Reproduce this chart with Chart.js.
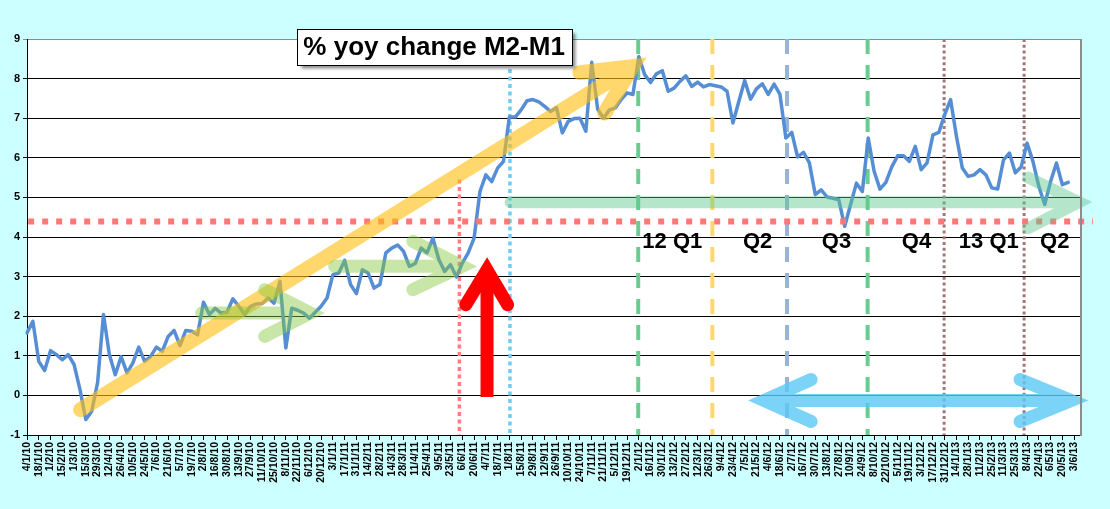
<!DOCTYPE html>
<html><head><meta charset="utf-8">
<script src="https://cdn.jsdelivr.net/npm/chart.js@4.4.0/dist/chart.umd.min.js"></script>
<style>html,body{margin:0;padding:0;background:#CCFFFF;}canvas{display:block}</style>
</head><body>
<canvas id="c" width="1110" height="509"></canvas>
<script>
// ---- categories: weekly dates (d/m/yy) ----
const categories = [
'4/1/10','11/1/10','18/1/10','25/1/10','1/2/10','8/2/10','15/2/10','22/2/10','1/3/10','8/3/10','15/3/10','22/3/10','29/3/10',
'5/4/10','12/4/10','19/4/10','26/4/10','3/5/10','10/5/10','17/5/10','24/5/10','31/5/10','7/6/10','14/6/10','21/6/10','28/6/10',
'5/7/10','12/7/10','19/7/10','26/7/10','2/8/10','9/8/10','16/8/10','23/8/10','30/8/10','6/9/10','13/9/10','20/9/10','27/9/10',
'4/10/10','11/10/10','18/10/10','25/10/10','1/11/10','8/11/10','15/11/10','22/11/10','29/11/10','6/12/10','13/12/10','20/12/10','27/12/10',
'3/1/11','10/1/11','17/1/11','24/1/11','31/1/11','7/2/11','14/2/11','21/2/11','28/2/11','7/3/11','14/3/11','21/3/11','28/3/11',
'4/4/11','11/4/11','18/4/11','25/4/11','2/5/11','9/5/11','16/5/11','23/5/11','30/5/11','6/6/11','13/6/11','20/6/11','27/6/11',
'4/7/11','11/7/11','18/7/11','25/7/11','1/8/11','8/8/11','15/8/11','22/8/11','29/8/11','5/9/11','12/9/11','19/9/11','26/9/11',
'3/10/11','10/10/11','17/10/11','24/10/11','31/10/11','7/11/11','14/11/11','21/11/11','28/11/11','5/12/11','12/12/11','19/12/11','26/12/11',
'2/1/12','9/1/12','16/1/12','23/1/12','30/1/12','6/2/12','13/2/12','20/2/12','27/2/12','5/3/12','12/3/12','19/3/12','26/3/12',
'2/4/12','9/4/12','16/4/12','23/4/12','30/4/12','7/5/12','14/5/12','21/5/12','28/5/12','4/6/12','11/6/12','18/6/12','25/6/12',
'2/7/12','9/7/12','16/7/12','23/7/12','30/7/12','6/8/12','13/8/12','20/8/12','27/8/12','3/9/12','10/9/12','17/9/12','24/9/12',
'1/10/12','8/10/12','15/10/12','22/10/12','29/10/12','5/11/12','12/11/12','19/11/12','26/11/12','3/12/12','10/12/12','17/12/12','24/12/12','31/12/12',
'7/1/13','14/1/13','21/1/13','28/1/13','4/2/13','11/2/13','18/2/13','25/2/13','4/3/13','11/3/13','18/3/13','25/3/13',
'1/4/13','8/4/13','15/4/13','22/4/13','29/4/13','6/5/13','13/5/13','20/5/13','27/5/13','3/6/13','10/6/13'
];

// ---- series: % yoy change M2-M1 ----
const m2m1Yoy = [
1.58,1.87,0.86,0.63,1.13,1.03,0.90,1.03,0.78,0.15,-0.61,-0.40,0.32,2.04,1.03,0.52,0.98,0.57,0.82,1.22,
0.86,0.98,1.22,1.11,1.49,1.64,1.26,1.64,1.62,1.53,2.35,2.04,2.20,2.08,2.10,2.44,2.25,2.04,2.25,2.31,
2.32,2.46,2.33,2.88,1.20,2.20,2.15,2.08,1.95,2.10,2.25,2.46,3.05,3.09,3.41,2.80,2.57,3.17,3.09,2.71,
2.80,3.60,3.72,3.80,3.64,3.26,3.33,3.72,3.60,3.97,3.43,3.13,3.30,2.99,3.34,3.60,3.97,5.15,5.57,5.40,
5.74,5.91,7.03,7.03,7.21,7.44,7.47,7.41,7.30,7.17,7.27,6.63,6.92,6.99,7.00,6.67,8.41,7.23,7.00,7.21,
7.26,7.47,7.64,7.60,8.56,8.10,7.90,8.12,8.20,7.68,7.76,7.93,8.07,7.80,7.91,7.79,7.85,7.82,7.79,7.68,
6.88,7.42,7.95,7.48,7.74,7.87,7.60,7.86,7.60,6.50,6.64,6.02,6.14,5.87,5.07,5.19,5.01,4.98,4.94,4.27,
4.82,5.36,5.15,6.50,5.66,5.21,5.38,5.77,6.05,6.05,5.91,6.29,5.70,5.87,6.58,6.64,7.09,7.47,6.54,5.74,
5.53,5.57,5.70,5.57,5.24,5.21,5.95,6.12,5.62,5.77,6.37,5.91,5.28,4.82,5.40,5.87,5.32,5.38
];

// ---- y tick labels ----
const yTickValues = [-1,0,1,2,3,4,5,6,7,8,9];

// ---- annotation texts ----
const titleText = '% yoy change M2-M1';
const quarterLabels = ['12 Q1','Q2','Q3','Q4','13 Q1','Q2'];
const quarterIdx = [109.7,124.2,137.6,151.2,163.5,174.7];
const quarterLevel = 3.88;

const FONT = '"Liberation Sans", Arial, Helvetica, sans-serif';

// annotation geometry in data units (category index, value)
const vLines = [
  {i:73.5,  from:5.45, color:'rgb(255,125,125)', w:3.5, dash:[4,3.5]},
  {i:82.1,  from:9,    color:'rgb(110,205,245)', w:3.5, dash:[4,3.5]},
  {i:103.9, from:9,    color:'rgb(105,205,145)', w:4,   dash:[15,11]},
  {i:116.5, from:9,    color:'rgb(255,215,110)', w:4,   dash:[15,11]},
  {i:129.2, from:9,    color:'rgb(150,180,215)', w:4,   dash:[15,11]},
  {i:142.9, from:9,    color:'rgb(105,205,145)', w:4,   dash:[15,11]},
  {i:155.9, from:9,    color:'rgb(160,120,120)', w:3,   dash:[3,2.8]},
  {i:169.5, from:9,    color:'rgb(160,120,120)', w:3,   dash:[3,2.8]}
];
const hLine = {v:4.39, from:0.2, to:181.2, color:'rgb(255,120,120)', w:6, dash:[6,8]};

const arrows = [
  {color:'rgba(255,190,20,0.62)', w:15, paths:[[[9.1,-0.36],[102.9,8.3]],[[94,8.15],[102.9,8.3],[98.2,7.13]]]},
  {color:'rgba(130,200,60,0.45)', w:13, paths:[[[29.7,2.08],[48.2,2.08]],[[40.4,2.67],[48.2,2.08],[40.4,1.49]]]},
  {color:'rgba(130,200,60,0.45)', w:13, paths:[[[52.3,3.26],[74.0,3.26]],[[65.6,3.89],[74.0,3.26],[65.6,2.67]]]},
  {color:'rgba(90,200,140,0.45)', w:12, paths:[[[82.2,4.88],[178.8,4.88]],[[170.2,5.5],[178.8,4.88],[170.2,4.22]]]},
  {color:'rgba(90,200,245,0.8)', w:13, paths:[[[125.3,-0.13],[177.5,-0.13]],[[133.3,0.4],[125.3,-0.13],[133.3,-0.66]],[[168.8,0.4],[177.5,-0.13],[168.8,-0.66]]]}
];
const redArrow = {color:'#FF0000', w:13, shaft:[[78.2,-0.04],[78.2,3.1]], head:[[74.6,2.29],[78.2,3.17],[81.7,2.29]]};
const titleBox = {i:69.2, v:8.8, w:275, h:36};

function px(chart, p){ return [chart.scales.x.getPixelForValue(p[0]), chart.scales.y.getPixelForValue(p[1])]; }

const deco = {
  id:'deco',
  beforeDraw(chart){
    const {ctx, chartArea:a} = chart;
    ctx.save();
    ctx.fillStyle = '#CCFFFF';
    ctx.fillRect(0,0,chart.width,chart.height);
    ctx.fillStyle = '#FFFFFF';
    ctx.fillRect(a.left,a.top,a.right-a.left,a.bottom-a.top);
    ctx.restore();
  },
  beforeDatasetsDraw(chart){
    const {ctx, chartArea:a} = chart;
    ctx.save();
    vLines.forEach(l=>{
      const [x,y0] = px(chart,[l.i,l.from]);
      ctx.beginPath();
      ctx.strokeStyle = l.color; ctx.lineWidth = l.w; ctx.setLineDash(l.dash); ctx.lineCap='butt';
      ctx.moveTo(x,y0); ctx.lineTo(x,a.bottom);
      ctx.stroke();
    });
    ctx.restore();
  },
  afterDatasetsDraw(chart){
    const {ctx, chartArea:a} = chart;
    ctx.save();
    // horizontal dotted level
    {
      const [x0,y] = px(chart,[hLine.from,hLine.v]);
      const [x1] = px(chart,[hLine.to,hLine.v]);
      ctx.beginPath(); ctx.strokeStyle=hLine.color; ctx.lineWidth=hLine.w; ctx.setLineDash(hLine.dash);
      ctx.moveTo(x0,y); ctx.lineTo(x1,y); ctx.stroke();
      ctx.setLineDash([]);
    }
    // translucent arrows
    arrows.forEach(ar=>{
      ctx.beginPath();
      ar.paths.forEach(path=>{
        path.forEach((p,k)=>{ const [x,y]=px(chart,p); if(k===0) ctx.moveTo(x,y); else ctx.lineTo(x,y); });
      });
      ctx.strokeStyle=ar.color; ctx.lineWidth=ar.w; ctx.lineCap='round'; ctx.lineJoin='miter'; ctx.miterLimit=10;
      ctx.stroke();
    });
    // red arrow
    {
      ctx.strokeStyle=redArrow.color; ctx.lineWidth=redArrow.w;
      ctx.beginPath(); ctx.lineCap='butt';
      let [x,y]=px(chart,redArrow.shaft[0]); ctx.moveTo(x,y);
      [x,y]=px(chart,redArrow.shaft[1]); ctx.lineTo(x,y); ctx.stroke();
      ctx.beginPath(); ctx.lineCap='round'; ctx.lineJoin='miter'; ctx.miterLimit=10;
      redArrow.head.forEach((p,k)=>{ const [hx,hy]=px(chart,p); if(k===0) ctx.moveTo(hx,hy); else ctx.lineTo(hx,hy); });
      ctx.stroke();
    }
    // quarter labels
    ctx.fillStyle='#000'; ctx.font='bold 22px '+FONT; ctx.textAlign='center'; ctx.textBaseline='middle';
    quarterLabels.forEach((t,k)=>{ const [x,y]=px(chart,[quarterIdx[k],quarterLevel]); ctx.fillText(t,x,y); });
    // title box
    {
      const [cx,cy]=px(chart,[titleBox.i,titleBox.v]);
      const bx=Math.round(cx-titleBox.w/2)+0.5, by=Math.round(cy-titleBox.h/2)+0.5;
      ctx.save();
      ctx.shadowColor='rgba(0,0,0,0.45)'; ctx.shadowOffsetX=3; ctx.shadowOffsetY=3; ctx.shadowBlur=3;
      ctx.fillStyle='#FFFFFF'; ctx.fillRect(bx,by,titleBox.w,titleBox.h);
      ctx.restore();
      ctx.strokeStyle='#000'; ctx.lineWidth=1; ctx.strokeRect(bx,by,titleBox.w,titleBox.h);
      ctx.fillStyle='#000'; ctx.font='bold 26px '+FONT; ctx.textAlign='center'; ctx.textBaseline='middle';
      ctx.fillText(titleText,cx,cy+1);
    }
    ctx.restore();
  },
  afterDraw(chart){
    const {ctx, chartArea:a} = chart;
    ctx.save();
    ctx.strokeStyle='#8C8C8C'; ctx.lineWidth=2;
    ctx.beginPath(); ctx.moveTo(a.right+1,a.top); ctx.lineTo(a.right+1,a.bottom+1); ctx.stroke();
    ctx.restore();
  }
};

new Chart(document.getElementById('c'), {
  type:'line',
  data:{
    labels: categories,
    datasets:[{
      label:'% yoy change M2-M1',
      data: m2m1Yoy,
      borderColor:'#558ED5',
      borderWidth:3.5,
      pointRadius:0,
      pointHoverRadius:0,
      tension:0,
      fill:false,
      borderJoinStyle:'round',
      borderCapStyle:'round'
    }]
  },
  options:{
    responsive:false,
    animation:false,
    devicePixelRatio:1,
    layout:{padding:{left:0,top:39,right:30,bottom:0}},
    plugins:{legend:{display:false}, tooltip:{enabled:false}, title:{display:false}},
    scales:{
      x:{
        type:'category',
        offset:false,
        ticks:{
          autoSkip:false, maxRotation:90, minRotation:90, padding:2,
          color:'#000', font:{family:FONT, size:10.5, weight:'bold'},
          callback:function(v,i){ return i%2===0 ? categories[i] : null; }
        },
        grid:{drawOnChartArea:false, drawTicks:true, tickLength:5, color:'#000', lineWidth:1},
        border:{display:true, color:'#000', width:1},
        afterFit(s){ s.height = 74; }
      },
      y:{
        min:-1, max:9,
        afterBuildTicks(s){ s.ticks = yTickValues.map(v=>({value:v})); },
        ticks:{color:'#000', padding:3, font:{family:FONT, size:11, weight:'bold'}},
        grid:{
          color:(c)=> (c.tick && c.tick.value===9) ? '#8C8C8C' : '#000',
          lineWidth:1, drawTicks:true, tickLength:4
        },
        border:{display:true, color:'#000', width:1},
        afterFit(s){ s.width = 27; }
      }
    }
  },
  plugins:[deco]
});
</script>
</body></html>
